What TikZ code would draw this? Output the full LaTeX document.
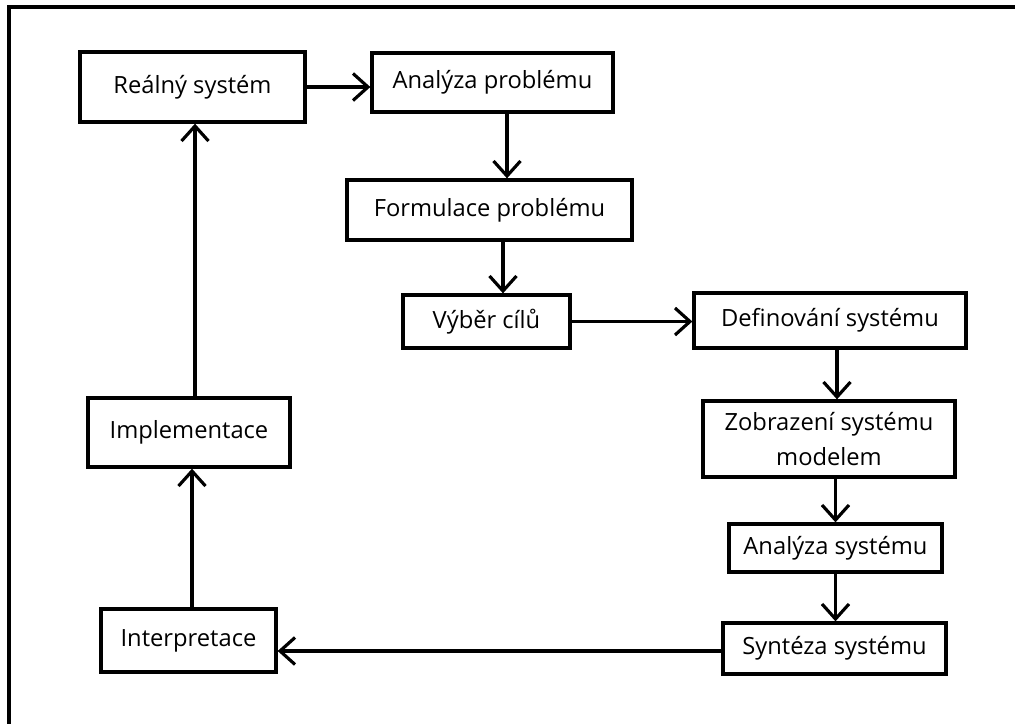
\documentclass[tikz,border=0pt]{standalone}
\usepackage{fontspec}
\setmainfont{Open Sans}
\usetikzlibrary{arrows.meta,positioning}
\tikzset{
    x=0.02cm, y=-0.02cm, % one unit is one pixel of the scheme
    box/.style={draw, line width=1.9pt, align=center, inner sep=0pt,
        font=\fontsize{13.5}{19.5}\selectfont}, % every box of the scheme
    flow/.style={line width=1.8pt, -{Straight Barb[length=3mm,width=5.4mm]}}, % the arrows
}
\begin{document}
\begin{tikzpicture}
  \useasboundingbox (0,0) rectangle (1015,724);
  % frame round the scheme
  \draw[line width=2pt] (1100,7) -- (9,7) -- (9,800);

  \node[box, minimum width=4.5cm,  minimum height=1.4cm]  (real)    at (192.5,87)  {Reálný systém};
  \node[box, minimum width=4.82cm, minimum height=1.18cm] (a_prob)  at (492.5,82.5) {Analýza problému};
  \node[box, minimum width=5.7cm,  minimum height=1.2cm]  (f_prob)  at (489.5,210) {Formulace problému};
  \node[box, minimum width=3.34cm, minimum height=1.06cm] (vyber)   at (486.5,321.5) {Výběr cílů};
  \node[box, minimum width=5.44cm, minimum height=1.1cm]  (def_sys) at (830,320.5) {Definování systému};
  \node[box, minimum width=5.04cm, minimum height=1.52cm] (zobr)    at (829,439) {Zobrazení systému\\modelem};
  \node[box, minimum width=4.26cm, minimum height=0.96cm] (a_sys)   at (835.5,548) {Analýza systému};
  \node[box, minimum width=4.46cm, minimum height=1.02cm] (synt)    at (834.5,648.5) {Syntéza systému};
  \node[box, minimum width=3.5cm,  minimum height=1.26cm] (interp)  at (188.5,640.5) {Interpretace};
  \node[box, minimum width=4.04cm, minimum height=1.38cm] (impl)    at (189,432.5) {Implementace};

  \draw[flow] (real.east) -- (real.east -| a_prob.west);
  \draw[flow] ([xshift=0.29cm]a_prob.south) -- ([xshift=0.29cm]a_prob.south |- f_prob.north);
  \draw[flow] ([xshift=0.33cm]vyber.north |- f_prob.south) -- ([xshift=0.33cm]vyber.north);
  \draw[flow] (vyber.east) -- (vyber.east -| def_sys.west);
  \draw[flow] ([xshift=0.14cm]def_sys.south) -- ([xshift=0.14cm]def_sys.south |- zobr.north);
  \draw[flow] (a_sys.north |- zobr.south) -- (a_sys.north);
  \draw[flow] (a_sys.south) -- (a_sys.south |- synt.north);
  \draw[flow] ([yshift=-0.05cm]synt.west) -- ([yshift=-0.05cm]synt.west -| interp.east);
  \draw[flow] ([xshift=0.07cm]interp.north) -- ([xshift=0.07cm]interp.north |- impl.south);
  \draw[flow] ([xshift=0.12cm]impl.north) -- ([xshift=0.12cm]impl.north |- real.south);
\end{tikzpicture}
\end{document}
